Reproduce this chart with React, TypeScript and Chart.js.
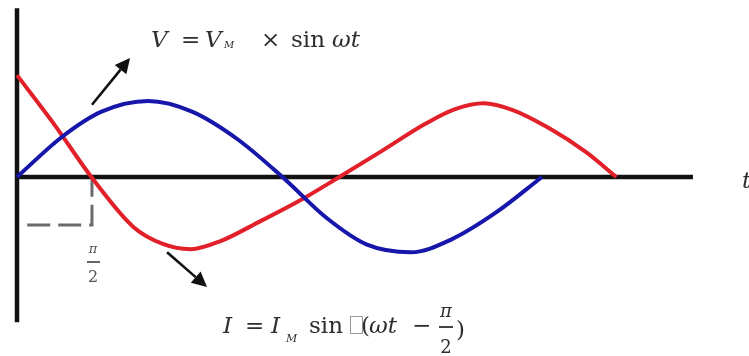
import React, { useEffect, useRef } from "react";
import { Chart, registerables } from "chart.js";
Chart.register(...registerables);

// Phase in degrees (one voltage cycle = 360°), amplitude in units of V_M / I_M
const voltagePhase = [0, 31, 58, 90, 120, 151, 182, 213, 240, 270, 298, 329, 360];
const voltageValues = [0, 0.53, 0.86, 1.0, 0.86, 0.5, 0, -0.55, -0.89, -0.99, -0.82, -0.46, 0];
const currentPhase = [0, 26, 51, 80, 100, 119, 140, 165, 193, 221, 250, 280, 300, 320, 340, 365, 390, 411];
const currentValues = [1.34, 0.68, 0, -0.66, -0.88, -0.95, -0.84, -0.6, -0.32, 0, 0.34, 0.7, 0.89, 0.97, 0.88, 0.64, 0.33, 0];
const markerPhase = [7, 51.4, 51.4];
const markerValues = [-0.63, -0.63, 0];

const toPoints = (xs: number[], ys: number[]) => xs.map((x, i) => ({ x, y: ys[i] }));

const W = 749;
const H = 356;

const overlay = {
  id: "overlay",
  beforeDatasetsDraw(chart: any) {
    const { ctx } = chart;
    const sx = chart.scales.x;
    const sy = chart.scales.y;
    const x0 = sx.getPixelForValue(0);
    const y0 = sy.getPixelForValue(0);
    ctx.save();
    ctx.strokeStyle = "#111";
    ctx.lineWidth = 4.5;
    ctx.lineCap = "butt";
    ctx.beginPath();
    ctx.moveTo(x0, sy.getPixelForValue(2.22));
    ctx.lineTo(x0, sy.getPixelForValue(-1.91));
    ctx.stroke();
    ctx.beginPath();
    ctx.moveTo(x0 - 2, y0);
    ctx.lineTo(sx.getPixelForValue(463.5), y0);
    ctx.stroke();
    ctx.restore();
  },
  afterDatasetsDraw(chart: any) {
    const { ctx } = chart;
    const sx = chart.scales.x;
    const sy = chart.scales.y;
    const arrow = (ax: number, ay: number, bx: number, by: number) => {
      const x1 = sx.getPixelForValue(ax), y1 = sy.getPixelForValue(ay);
      const x2 = sx.getPixelForValue(bx), y2 = sy.getPixelForValue(by);
      const ang = Math.atan2(y2 - y1, x2 - x1);
      const hl = 15, hw = 7.5;
      const bxp = x2 - hl * Math.cos(ang), byp = y2 - hl * Math.sin(ang);
      ctx.save();
      ctx.strokeStyle = "#111";
      ctx.fillStyle = "#111";
      ctx.lineWidth = 2.6;
      ctx.beginPath();
      ctx.moveTo(x1, y1);
      ctx.lineTo(bxp, byp);
      ctx.stroke();
      ctx.beginPath();
      ctx.moveTo(x2, y2);
      ctx.lineTo(bxp + hw * Math.sin(ang), byp - hw * Math.cos(ang));
      ctx.lineTo(bxp - hw * Math.sin(ang), byp + hw * Math.cos(ang));
      ctx.closePath();
      ctx.fill();
      ctx.restore();
    };
    arrow(51.4, 0.95, 77.5, 1.566);
    arrow(102.9, -0.99, 130.3, -1.447);

    const serif = '"DejaVu Serif", "Liberation Serif", serif';
    const txt = (s: string, x: number, y: number, size: number, italic: boolean, color = "#2e2e2e", align: CanvasTextAlign = "left") => {
      ctx.save();
      ctx.font = `${italic ? "italic " : ""}${size}px ${serif}`;
      ctx.fillStyle = color;
      ctx.textAlign = align;
      ctx.textBaseline = "alphabetic";
      ctx.fillText(s, x, y);
      ctx.restore();
    };
    // Top formula
    txt("V", 151, 47, 23, true);
    txt("=", 181, 47, 23, false);
    txt("V", 205, 47, 23, true);
    txt("M", 224, 48, 10, true);
    txt("×", 261, 47, 23, false);
    txt("sin", 291, 47, 23, false);
    txt("ωt", 332, 47, 23, true);

    // Bottom formula
    txt("I", 223, 333, 23, true);
    txt("=", 245, 333, 23, false);
    txt("I", 271, 333, 23, true);
    txt("M", 286, 342, 11, true);
    txt("sin", 309, 333, 23, false);
    ctx.save();
    ctx.strokeStyle = "#999";
    ctx.lineWidth = 1;
    ctx.strokeRect(350.5, 316.5, 12, 17);
    ctx.restore();
    txt("(", 361, 333, 23, false);
    txt("ωt", 369, 333, 23, true);
    txt("−", 412, 333, 23, false);
    txt("π", 446, 317, 18, true, "#2e2e2e", "center");
    ctx.save();
    ctx.strokeStyle = "#2e2e2e";
    ctx.lineWidth = 1.8;
    ctx.beginPath();
    ctx.moveTo(439, 327);
    ctx.lineTo(453, 327);
    ctx.stroke();
    ctx.restore();
    txt("2", 446, 353, 18, false, "#2e2e2e", "center");
    txt(")", 456, 337, 23, false);

    // pi/2 marker label
    txt("π", 93, 253, 13, true, "#555", "center");
    ctx.save();
    ctx.strokeStyle = "#555";
    ctx.lineWidth = 1.8;
    ctx.beginPath();
    ctx.moveTo(87, 262);
    ctx.lineTo(100, 262);
    ctx.stroke();
    ctx.restore();
    txt("2", 93, 282, 16, false, "#555", "center");

    // axis label
    txt("t", 742, 188, 23, true);
  },
};

export default function App() {
  const ref = useRef<HTMLCanvasElement | null>(null);
  useEffect(() => {
    if (!ref.current) return;
    const pxPerDeg = 525 / 360;
    const pxPerUnit = 76;
    const chart = new Chart(ref.current, {
      type: "scatter",
      data: {
        datasets: [
          {
            data: toPoints(voltagePhase, voltageValues),
            showLine: true,
            borderColor: "#1616aa",
            borderWidth: 4,
            pointRadius: 0,
            cubicInterpolationMode: "monotone",
          },
          {
            data: toPoints(currentPhase, currentValues),
            showLine: true,
            borderColor: "#e2202a",
            borderWidth: 4,
            pointRadius: 0,
            cubicInterpolationMode: "monotone",
          },
          {
            data: toPoints(markerPhase, markerValues),
            showLine: true,
            borderColor: "#6a6a6a",
            borderWidth: 3,
            borderDash: [23, 8],
            pointRadius: 0,
            tension: 0,
          },
        ],
      },
      options: {
        responsive: false,
        animation: false,
        layout: { padding: 0 },
        plugins: { legend: { display: false }, tooltip: { enabled: false } },
        events: [],
        scales: {
          x: { type: "linear", display: false, min: -17 / pxPerDeg, max: (W - 17) / pxPerDeg },
          y: { type: "linear", display: false, min: -(H - 177) / pxPerUnit, max: 177 / pxPerUnit },
        },
      },
      plugins: [overlay],
    });
    return () => chart.destroy();
  }, []);
  return (
    <div style={{ position: "fixed", left: 0, top: 0, width: W, height: H, background: "#fff" }}>
      <canvas ref={ref} width={W} height={H} style={{ width: W, height: H, display: "block" }} />
    </div>
  );
}
